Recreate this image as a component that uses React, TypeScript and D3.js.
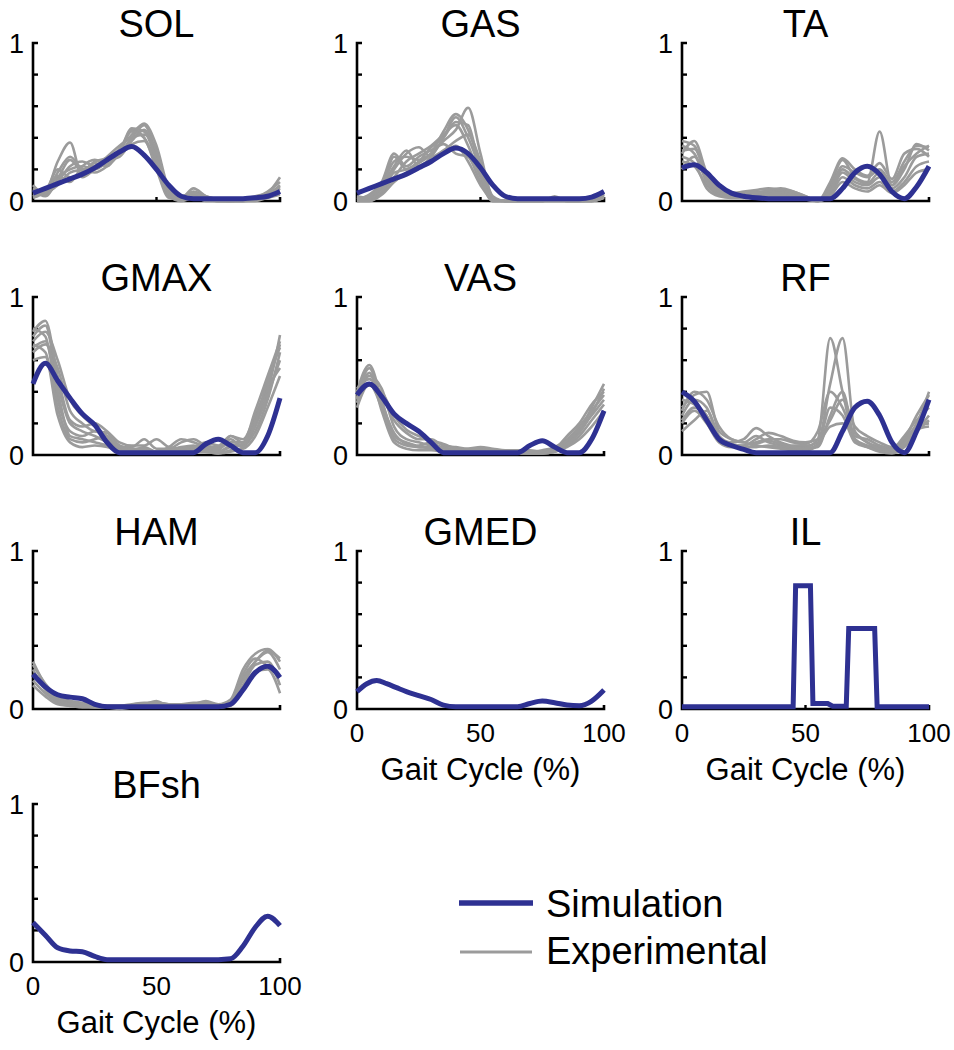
import React from "react";
import * as d3 from "d3";

// ---------- data ----------
const GRID = [0, 5, 10, 15, 20, 25, 30, 35, 40, 45, 50, 55, 60, 65, 70, 75, 80, 85, 90, 95, 100];
const TITLES = ["SOL", "GAS", "TA", "GMAX", "VAS", "RF", "HAM", "GMED", "IL", "BFsh"];
const Y_TICKS = [0, 0.2, 0.4, 0.6, 0.8, 1];
const Y_LABELS = ["0", "1"];
const X_TICKS = [0, 50, 100];
const X_TITLE = "Gait Cycle (%)";
const LEGEND = ["Simulation", "Experimental"];

const SOL_SIM = [0.05, 0.08, 0.11, 0.14, 0.17, 0.21, 0.26, 0.31, 0.345, 0.29, 0.2, 0.1, 0.03, 0.015, 0.015, 0.015, 0.015, 0.015, 0.02, 0.03, 0.06];
const GAS_SIM = [0.05, 0.08, 0.11, 0.14, 0.17, 0.21, 0.25, 0.3, 0.335, 0.3, 0.21, 0.1, 0.03, 0.015, 0.015, 0.015, 0.015, 0.015, 0.015, 0.025, 0.06];
const TA_SIM = [0.21, 0.23, 0.18, 0.1, 0.05, 0.03, 0.02, 0.015, 0.015, 0.015, 0.015, 0.015, 0.015, 0.08, 0.18, 0.22, 0.17, 0.06, 0.015, 0.09, 0.22];
const GMAX_SIM = [0.45, 0.58, 0.47, 0.36, 0.26, 0.19, 0.08, 0.015, 0.015, 0.015, 0.015, 0.015, 0.015, 0.015, 0.07, 0.1, 0.06, 0.015, 0.015, 0.12, 0.36];
const VAS_SIM = [0.38, 0.45, 0.37, 0.26, 0.2, 0.15, 0.08, 0.015, 0.015, 0.015, 0.015, 0.015, 0.015, 0.015, 0.06, 0.09, 0.05, 0.015, 0.015, 0.1, 0.28];
const RF_SIM = [0.4, 0.34, 0.22, 0.1, 0.06, 0.035, 0.015, 0.015, 0.015, 0.015, 0.015, 0.015, 0.015, 0.15, 0.3, 0.34, 0.25, 0.08, 0.015, 0.15, 0.35];
const HAM_SIM = [0.22, 0.14, 0.09, 0.075, 0.065, 0.03, 0.015, 0.015, 0.015, 0.015, 0.015, 0.015, 0.015, 0.015, 0.015, 0.015, 0.03, 0.12, 0.23, 0.27, 0.2];
const GMED_X = [0, 4, 8, 12, 16, 20, 25, 30, 35, 40, 45, 50, 55, 60, 65, 70, 75, 80, 85, 90, 95, 100];
const GMED_SIM = [0.11, 0.16, 0.18, 0.16, 0.135, 0.11, 0.085, 0.06, 0.025, 0.015, 0.015, 0.015, 0.015, 0.015, 0.015, 0.035, 0.05, 0.04, 0.025, 0.02, 0.05, 0.12];
const BFSH_SIM = [0.25, 0.17, 0.09, 0.07, 0.065, 0.035, 0.015, 0.015, 0.015, 0.015, 0.015, 0.015, 0.015, 0.015, 0.015, 0.015, 0.02, 0.1, 0.22, 0.29, 0.23];
const IL_X = [0, 45, 46, 52, 53, 59, 61, 66.5, 67.5, 78, 79, 100];
const IL_SIM = [0.015, 0.015, 0.78, 0.78, 0.035, 0.035, 0.018, 0.018, 0.51, 0.51, 0.015, 0.015];

const SOL_EXP = [
  [0.08, 0.06, 0.25, 0.37, 0.15, 0.2, 0.24, 0.3, 0.4, 0.48, 0.3, 0.05, 0.02, 0.06, 0.03, 0.01, 0.0, 0.01, 0.02, 0.05, 0.15],
  [0.05, 0.05, 0.18, 0.28, 0.2, 0.18, 0.22, 0.3, 0.45, 0.4, 0.25, 0.04, 0.01, 0.05, 0.02, 0.0, 0.0, 0.0, 0.02, 0.04, 0.1],
  [0.03, 0.08, 0.15, 0.2, 0.22, 0.2, 0.25, 0.33, 0.42, 0.49, 0.35, 0.08, 0.02, 0.04, 0.01, 0.0, 0.0, 0.01, 0.01, 0.03, 0.08],
  [0.1, 0.04, 0.12, 0.22, 0.25, 0.22, 0.26, 0.28, 0.38, 0.45, 0.28, 0.03, 0.0, 0.02, 0.01, 0.0, 0.0, 0.0, 0.02, 0.06, 0.12],
  [0.06, 0.07, 0.2, 0.15, 0.18, 0.24, 0.22, 0.32, 0.44, 0.4, 0.2, 0.02, 0.01, 0.03, 0.0, 0.0, 0.0, 0.0, 0.01, 0.03, 0.06],
  [0.04, 0.05, 0.1, 0.18, 0.2, 0.22, 0.28, 0.35, 0.4, 0.42, 0.32, 0.06, 0.02, 0.08, 0.03, 0.01, 0.0, 0.0, 0.01, 0.02, 0.05],
  [0.07, 0.03, 0.14, 0.26, 0.19, 0.25, 0.27, 0.3, 0.36, 0.38, 0.22, 0.04, 0.01, 0.02, 0.01, 0.0, 0.0, 0.0, 0.0, 0.02, 0.04],
  [0.02, 0.06, 0.16, 0.12, 0.22, 0.26, 0.24, 0.31, 0.46, 0.44, 0.26, 0.05, 0.03, 0.05, 0.02, 0.0, 0.0, 0.01, 0.03, 0.05, 0.09],
];
const GAS_EXP = [
  [0.0, 0.02, 0.08, 0.28, 0.2, 0.25, 0.3, 0.38, 0.45, 0.59, 0.3, 0.02, 0.0, 0.0, 0.0, 0.0, 0.02, 0.0, 0.0, 0.01, 0.04],
  [0.02, 0.03, 0.1, 0.22, 0.32, 0.22, 0.28, 0.4, 0.53, 0.4, 0.2, 0.01, 0.0, 0.0, 0.0, 0.0, 0.03, 0.0, 0.0, 0.0, 0.03],
  [0.0, 0.0, 0.05, 0.15, 0.25, 0.3, 0.35, 0.42, 0.48, 0.35, 0.15, 0.0, 0.0, 0.0, 0.0, 0.0, 0.0, 0.0, 0.0, 0.01, 0.05],
  [0.01, 0.04, 0.12, 0.3, 0.22, 0.28, 0.32, 0.36, 0.3, 0.28, 0.12, 0.0, 0.0, 0.0, 0.0, 0.0, 0.01, 0.0, 0.0, 0.0, 0.02],
  [0.0, 0.01, 0.06, 0.18, 0.2, 0.24, 0.3, 0.44, 0.55, 0.45, 0.22, 0.02, 0.0, 0.0, 0.0, 0.0, 0.0, 0.0, 0.0, 0.02, 0.06],
  [0.03, 0.02, 0.09, 0.2, 0.3, 0.34, 0.28, 0.32, 0.38, 0.42, 0.25, 0.03, 0.0, 0.0, 0.0, 0.0, 0.02, 0.0, 0.0, 0.0, 0.03],
  [0.0, 0.0, 0.04, 0.12, 0.18, 0.22, 0.26, 0.3, 0.35, 0.25, 0.1, 0.01, 0.0, 0.0, 0.0, 0.0, 0.0, 0.0, 0.0, 0.01, 0.04],
  [0.01, 0.03, 0.1, 0.25, 0.28, 0.26, 0.34, 0.4, 0.5, 0.48, 0.18, 0.0, 0.0, 0.0, 0.0, 0.0, 0.01, 0.0, 0.0, 0.0, 0.02],
];
const TA_EXP = [
  [0.38, 0.35, 0.15, 0.06, 0.04, 0.04, 0.05, 0.06, 0.06, 0.05, 0.02, 0.0, 0.1, 0.26, 0.15, 0.12, 0.44, 0.1, 0.2, 0.36, 0.32],
  [0.3, 0.38, 0.18, 0.08, 0.05, 0.06, 0.07, 0.08, 0.07, 0.06, 0.03, 0.0, 0.08, 0.22, 0.18, 0.15, 0.2, 0.12, 0.25, 0.35, 0.34],
  [0.25, 0.22, 0.1, 0.04, 0.03, 0.03, 0.04, 0.05, 0.05, 0.04, 0.02, 0.0, 0.05, 0.18, 0.12, 0.1, 0.15, 0.08, 0.15, 0.28, 0.3],
  [0.2, 0.28, 0.12, 0.05, 0.03, 0.02, 0.03, 0.04, 0.04, 0.03, 0.01, 0.0, 0.04, 0.15, 0.1, 0.08, 0.12, 0.06, 0.12, 0.22, 0.25],
  [0.35, 0.3, 0.14, 0.06, 0.05, 0.05, 0.06, 0.06, 0.07, 0.05, 0.02, 0.0, 0.12, 0.27, 0.2, 0.16, 0.24, 0.14, 0.3, 0.33, 0.28],
  [0.28, 0.24, 0.08, 0.03, 0.02, 0.02, 0.03, 0.03, 0.03, 0.02, 0.01, 0.0, 0.03, 0.12, 0.08, 0.06, 0.1, 0.05, 0.1, 0.18, 0.2],
  [0.32, 0.33, 0.16, 0.07, 0.04, 0.05, 0.05, 0.07, 0.08, 0.06, 0.03, 0.0, 0.06, 0.2, 0.14, 0.11, 0.18, 0.1, 0.22, 0.3, 0.35],
];
const GMAX_EXP = [
  [0.8, 0.75, 0.35, 0.15, 0.12, 0.15, 0.1, 0.05, 0.05, 0.1, 0.04, 0.04, 0.08, 0.1, 0.06, 0.05, 0.1, 0.05, 0.2, 0.4, 0.76],
  [0.75, 0.82, 0.45, 0.2, 0.15, 0.12, 0.08, 0.04, 0.03, 0.05, 0.02, 0.03, 0.05, 0.06, 0.04, 0.03, 0.12, 0.1, 0.25, 0.45, 0.7],
  [0.7, 0.65, 0.3, 0.1, 0.08, 0.1, 0.12, 0.03, 0.02, 0.03, 0.02, 0.02, 0.03, 0.04, 0.03, 0.02, 0.05, 0.06, 0.15, 0.35, 0.65],
  [0.65, 0.7, 0.55, 0.28, 0.2, 0.15, 0.14, 0.06, 0.04, 0.04, 0.02, 0.05, 0.1, 0.08, 0.05, 0.04, 0.08, 0.08, 0.22, 0.42, 0.55],
  [0.6, 0.62, 0.25, 0.08, 0.05, 0.06, 0.05, 0.02, 0.01, 0.02, 0.01, 0.01, 0.02, 0.03, 0.02, 0.01, 0.03, 0.04, 0.12, 0.3, 0.5],
  [0.78, 0.85, 0.5, 0.22, 0.18, 0.2, 0.15, 0.08, 0.06, 0.06, 0.1, 0.05, 0.04, 0.05, 0.08, 0.06, 0.12, 0.08, 0.28, 0.5, 0.72],
  [0.68, 0.72, 0.4, 0.12, 0.1, 0.08, 0.06, 0.03, 0.02, 0.02, 0.01, 0.02, 0.02, 0.02, 0.02, 0.01, 0.02, 0.05, 0.18, 0.38, 0.6],
  [0.72, 0.78, 0.6, 0.35, 0.25, 0.18, 0.12, 0.05, 0.03, 0.03, 0.02, 0.03, 0.04, 0.05, 0.03, 0.02, 0.06, 0.07, 0.2, 0.48, 0.68],
];
const VAS_EXP = [
  [0.4, 0.57, 0.35, 0.12, 0.08, 0.06, 0.08, 0.04, 0.03, 0.02, 0.03, 0.02, 0.02, 0.03, 0.02, 0.02, 0.03, 0.08, 0.15, 0.3, 0.45],
  [0.35, 0.5, 0.42, 0.18, 0.1, 0.08, 0.06, 0.05, 0.03, 0.04, 0.04, 0.03, 0.02, 0.02, 0.02, 0.03, 0.05, 0.1, 0.18, 0.28, 0.38],
  [0.3, 0.45, 0.3, 0.1, 0.06, 0.05, 0.04, 0.02, 0.02, 0.02, 0.01, 0.01, 0.01, 0.01, 0.01, 0.01, 0.02, 0.06, 0.12, 0.22, 0.32],
  [0.42, 0.48, 0.38, 0.22, 0.14, 0.1, 0.1, 0.06, 0.05, 0.04, 0.05, 0.04, 0.03, 0.03, 0.03, 0.02, 0.04, 0.12, 0.2, 0.32, 0.4],
  [0.33, 0.52, 0.28, 0.08, 0.04, 0.03, 0.03, 0.02, 0.01, 0.01, 0.02, 0.02, 0.01, 0.01, 0.01, 0.01, 0.02, 0.05, 0.1, 0.18, 0.28],
  [0.38, 0.44, 0.4, 0.25, 0.16, 0.12, 0.09, 0.07, 0.04, 0.03, 0.03, 0.03, 0.02, 0.02, 0.02, 0.02, 0.03, 0.09, 0.16, 0.25, 0.35],
  [0.36, 0.55, 0.33, 0.14, 0.07, 0.05, 0.05, 0.03, 0.02, 0.02, 0.02, 0.02, 0.01, 0.02, 0.01, 0.01, 0.02, 0.07, 0.14, 0.26, 0.42],
];
const RF_EXP = [
  [0.3, 0.38, 0.4, 0.15, 0.1, 0.08, 0.12, 0.08, 0.06, 0.05, 0.05, 0.1, 0.74, 0.4, 0.1, 0.06, 0.04, 0.03, 0.1, 0.25, 0.38],
  [0.25, 0.35, 0.3, 0.12, 0.08, 0.1, 0.17, 0.12, 0.08, 0.06, 0.06, 0.08, 0.45, 0.74, 0.15, 0.08, 0.05, 0.02, 0.08, 0.2, 0.4],
  [0.2, 0.28, 0.2, 0.08, 0.05, 0.06, 0.08, 0.1, 0.1, 0.08, 0.07, 0.15, 0.4, 0.3, 0.12, 0.1, 0.06, 0.04, 0.12, 0.22, 0.3],
  [0.35, 0.32, 0.25, 0.1, 0.06, 0.05, 0.05, 0.06, 0.05, 0.04, 0.03, 0.06, 0.3, 0.25, 0.08, 0.05, 0.02, 0.01, 0.05, 0.15, 0.25],
  [0.15, 0.22, 0.28, 0.12, 0.07, 0.06, 0.1, 0.14, 0.12, 0.09, 0.08, 0.1, 0.22, 0.35, 0.18, 0.12, 0.08, 0.05, 0.1, 0.18, 0.2],
  [0.28, 0.4, 0.35, 0.18, 0.1, 0.08, 0.06, 0.05, 0.04, 0.03, 0.04, 0.05, 0.25, 0.4, 0.1, 0.05, 0.03, 0.02, 0.06, 0.15, 0.22],
  [0.22, 0.3, 0.24, 0.1, 0.06, 0.04, 0.07, 0.09, 0.07, 0.05, 0.04, 0.07, 0.18, 0.2, 0.14, 0.08, 0.04, 0.03, 0.08, 0.16, 0.18],
];
const HAM_EXP = [
  [0.3, 0.15, 0.06, 0.04, 0.03, 0.02, 0.01, 0.01, 0.02, 0.03, 0.05, 0.02, 0.02, 0.03, 0.05, 0.03, 0.06, 0.25, 0.35, 0.38, 0.3],
  [0.25, 0.12, 0.05, 0.03, 0.02, 0.02, 0.02, 0.01, 0.01, 0.02, 0.03, 0.02, 0.02, 0.02, 0.03, 0.02, 0.04, 0.2, 0.3, 0.36, 0.25],
  [0.18, 0.1, 0.04, 0.02, 0.02, 0.01, 0.01, 0.01, 0.01, 0.01, 0.02, 0.01, 0.01, 0.01, 0.02, 0.01, 0.03, 0.15, 0.28, 0.3, 0.15],
  [0.22, 0.14, 0.07, 0.05, 0.04, 0.03, 0.02, 0.02, 0.02, 0.03, 0.04, 0.03, 0.03, 0.04, 0.04, 0.02, 0.05, 0.22, 0.32, 0.27, 0.2],
  [0.15, 0.08, 0.03, 0.02, 0.01, 0.01, 0.01, 0.0, 0.01, 0.01, 0.02, 0.01, 0.01, 0.02, 0.02, 0.01, 0.02, 0.12, 0.24, 0.25, 0.1],
  [0.28, 0.16, 0.08, 0.05, 0.03, 0.03, 0.02, 0.02, 0.03, 0.04, 0.04, 0.03, 0.02, 0.03, 0.04, 0.02, 0.05, 0.18, 0.3, 0.37, 0.32],
];

// ---------- layout ----------
const COL_LEFT = [33, 357, 682];
const ROW_TOP = [43, 297, 551, 804];
const PW = 247;
const PH = 158;
const BLUE = "#2E3192";
const GRAY = "#9B9B9B";
const FONT = "'Liberation Sans', Arial, Helvetica, sans-serif";

type Panel = {
  title: string;
  col: number;
  row: number;
  simX: number[];
  sim: number[];
  exp: number[][];
  xLabels: boolean;
  linear?: boolean;
};

const PANELS: Panel[] = [
  { title: TITLES[0], col: 0, row: 0, simX: GRID, sim: SOL_SIM, exp: SOL_EXP, xLabels: false },
  { title: TITLES[1], col: 1, row: 0, simX: GRID, sim: GAS_SIM, exp: GAS_EXP, xLabels: false },
  { title: TITLES[2], col: 2, row: 0, simX: GRID, sim: TA_SIM, exp: TA_EXP, xLabels: false },
  { title: TITLES[3], col: 0, row: 1, simX: GRID, sim: GMAX_SIM, exp: GMAX_EXP, xLabels: false },
  { title: TITLES[4], col: 1, row: 1, simX: GRID, sim: VAS_SIM, exp: VAS_EXP, xLabels: false },
  { title: TITLES[5], col: 2, row: 1, simX: GRID, sim: RF_SIM, exp: RF_EXP, xLabels: false },
  { title: TITLES[6], col: 0, row: 2, simX: GRID, sim: HAM_SIM, exp: HAM_EXP, xLabels: false },
  { title: TITLES[7], col: 1, row: 2, simX: GMED_X, sim: GMED_SIM, exp: [], xLabels: true },
  { title: TITLES[8], col: 2, row: 2, simX: IL_X, sim: IL_SIM, exp: [], xLabels: true, linear: true },
  { title: TITLES[9], col: 0, row: 3, simX: GRID, sim: BFSH_SIM, exp: [], xLabels: true },
];

function PanelView({ p }: { p: Panel }) {
  const left = COL_LEFT[p.col];
  const top = ROW_TOP[p.row];
  const x = d3.scaleLinear().domain([0, 100]).range([left, left + PW]);
  const y = d3.scaleLinear().domain([0, 1]).range([top + PH, top]);
  const expLine = d3
    .line<number>()
    .x((_, i) => x(GRID[i]))
    .y((d) => y(d))
    .curve(d3.curveMonotoneX);
  const simLine = d3
    .line<number>()
    .x((_, i) => x(p.simX[i]))
    .y((d) => y(d))
    .curve(p.linear ? d3.curveLinear : d3.curveMonotoneX);
  const y0 = y(0);
  const axisPath = `M${x(0) + 5},${y(1)}H${x(0)}V${y0}H${x(100)}V${y0 - 4}`;
  return (
    <g>
      <text x={x(50)} y={top - 6} textAnchor="middle" fontSize={38} fontFamily={FONT} fill="#000">
        {p.title}
      </text>
      <path d={axisPath} fill="none" stroke="#000" strokeWidth={2.6} strokeLinejoin="miter" />
      {Y_TICKS.slice(1, -1).map((t) => (
        <line key={t} x1={x(0)} x2={x(0) + 5} y1={y(t)} y2={y(t)} stroke="#000" strokeWidth={2.4} />
      ))}
      {X_TICKS.slice(1, -1).map((t) => (
        <line key={t} x1={x(t)} x2={x(t)} y1={y0} y2={y0 - 4} stroke="#000" strokeWidth={2.4} />
      ))}
      {Y_LABELS.map((l) => (
        <text key={l} x={x(0) - 9} y={y(+l)} dy="0.36em" textAnchor="end" fontSize={27} fontFamily={FONT} fill="#000">
          {l}
        </text>
      ))}
      {p.xLabels &&
        X_TICKS.map((t) => (
          <text key={t} x={x(t)} y={y0 + 33} textAnchor="middle" fontSize={26} fontFamily={FONT} fill="#000">
            {t}
          </text>
        ))}
      {p.xLabels && (
        <text x={x(50)} y={y0 + 71} textAnchor="middle" fontSize={31} fontFamily={FONT} fill="#000">
          {X_TITLE}
        </text>
      )}
      {p.exp.map((e, i) => (
        <path key={i} d={expLine(e) || ""} fill="none" stroke={GRAY} strokeWidth={2.6} strokeLinejoin="round" />
      ))}
      <path
        d={simLine(p.sim) || ""}
        fill="none"
        stroke={BLUE}
        strokeWidth={5}
        strokeLinejoin={p.linear ? "miter" : "round"}
      />
    </g>
  );
}

export default function App() {
  return (
    <svg
      width={954}
      height={1050}
      viewBox="0 0 954 1050"
      style={{ position: "absolute", left: 0, top: 0, background: "#fff" }}
    >
      <rect x={0} y={0} width={954} height={1050} fill="#fff" />
      {PANELS.map((p) => (
        <PanelView key={p.title} p={p} />
      ))}
      <g>
        <line x1={459} x2={533} y1={903} y2={903} stroke={BLUE} strokeWidth={5.5} />
        <line x1={460} x2={532} y1={952} y2={952} stroke={GRAY} strokeWidth={3} />
        <text x={546} y={917} fontSize={38} fontFamily={FONT} fill="#000">
          {LEGEND[0]}
        </text>
        <text x={546} y={964} fontSize={38} fontFamily={FONT} fill="#000">
          {LEGEND[1]}
        </text>
      </g>
    </svg>
  );
}
